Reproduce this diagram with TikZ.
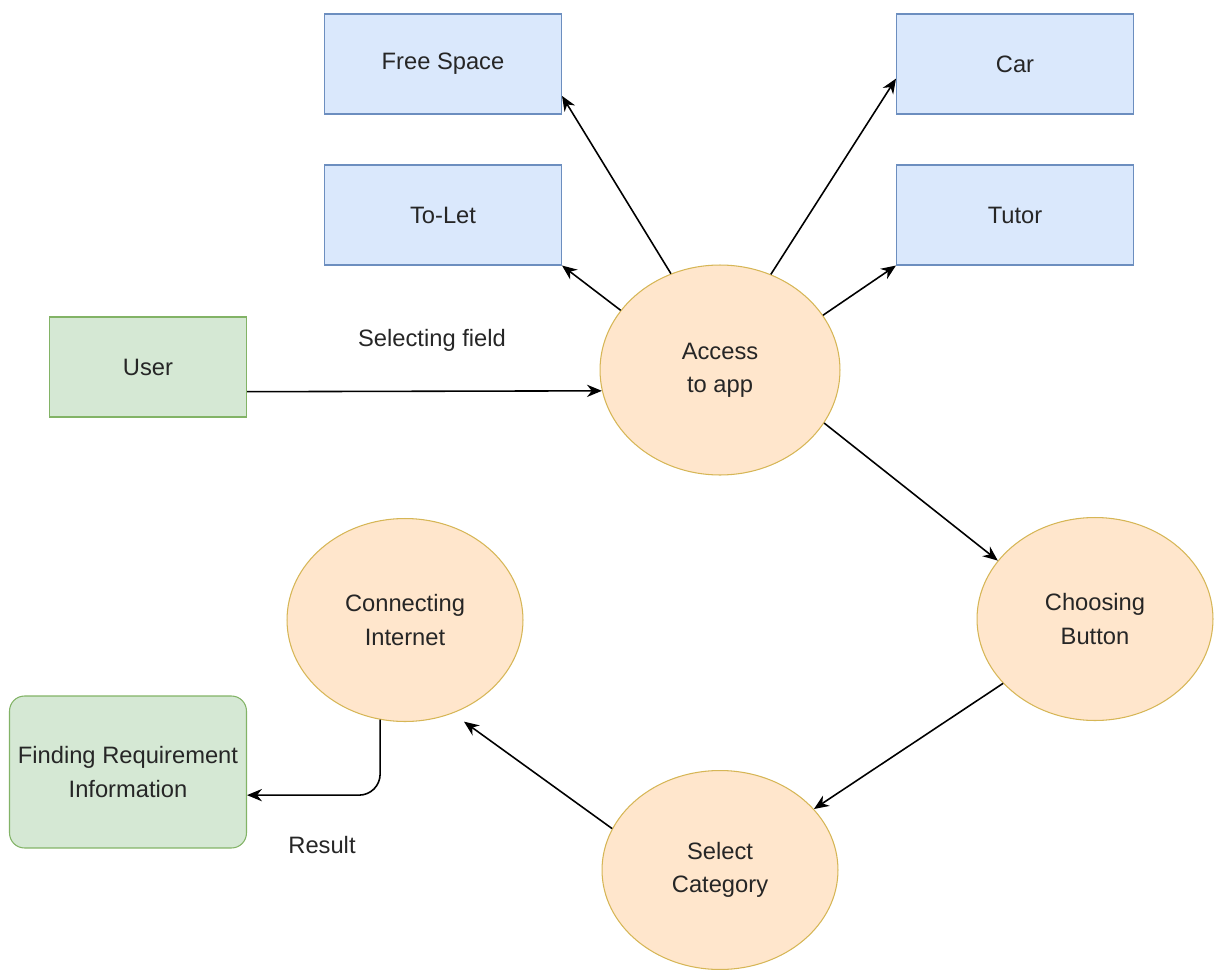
\documentclass[tikz,border=0pt]{standalone}
\usepackage{fontspec}
\setmainfont{Liberation Sans}
\usepackage{tikz}
\usetikzlibrary{positioning}
\usetikzlibrary{shapes.geometric}
\usetikzlibrary{arrows.meta}
\usepackage{xcolor}
\definecolor{boxblue}{HTML}{DAE8FC}
\definecolor{lineblue}{HTML}{6C8EBF}
\definecolor{boxgreen}{HTML}{D5E8D4}
\definecolor{linegreen}{HTML}{82B366}
\definecolor{procfill}{HTML}{FFE6CC}
\definecolor{procline}{HTML}{D6B656}
\definecolor{txtgray}{HTML}{262626}
\tikzset{
	field/.style={draw=lineblue, fill=boxblue, line width=0.6pt, minimum width=4.74cm, minimum height=2cm, inner sep=0},
	actor/.style={draw=linegreen, fill=boxgreen, line width=0.6pt, minimum height=2cm, inner sep=0, align=center},
	proc/.style={ellipse, draw=procline, fill=procfill, line width=0.6pt, minimum width=4.72cm, minimum height=4.06cm, inner sep=0, align=center},
	flow/.style={-{Stealth[length=8.5pt,width=7pt]}, line width=0.9pt, black},
}

\begin{document}
\begin{tikzpicture}[x=0.02cm, y=-0.02cm, every node/.style={font=\fontsize{13.5}{19}\selectfont, text=txtgray}]
	\useasboundingbox (0,0) rectangle (1214,970);
	% fields
	\node[field] (free) at (443,64) {Free Space};
	\node[field] (car) at (1015,64) {Car};
	\node[field] (tolet) at (443,215) {To-Let};
	\node[field] (tutor) at (1015,215) {Tutor};
	% actors and processes
	\node[actor, minimum width=3.94cm] (user) at (148,367) {User};
	\node[proc, minimum width=4.8cm, minimum height=4.2cm] (acc) at (720,370) {Access\\to app};
	\node[proc] (choose) at (1095,619) {Choosing\\Button};
	\node[proc] (conn) at (405,620) {Connecting\\Internet};
	\node[proc, minimum height=3.98cm] (select) at (720,870) {Select\\Category};
	\node[actor, minimum width=4.74cm, minimum height=3.04cm, rounded corners=0.3cm] (find) at (128,772) {Finding Requirement\\Information};
	\node (selfield) at (432,340) {Selecting field};
	\node (result) at (322,845) {Result};
	% connectors
	\draw[flow] (user.-14) -- (acc.190);
	\draw[flow] (acc.117) -- (free.-15);
	\draw[flow] (acc.149) -- (tolet.south east);
	\draw[flow] (acc.62) -- (car.187);
	\draw[flow] (acc.28) -- (tutor.south west);
	\draw[flow] (acc.-27) -- (choose.149);
	\draw[flow] (choose.215) -- (select.33);
	\draw[flow, shorten >=8pt] (select.159) -- (conn.-63);
	\draw[flow, rounded corners=12] (conn.-104) |- (find.-11);
\end{tikzpicture}
\end{document}
